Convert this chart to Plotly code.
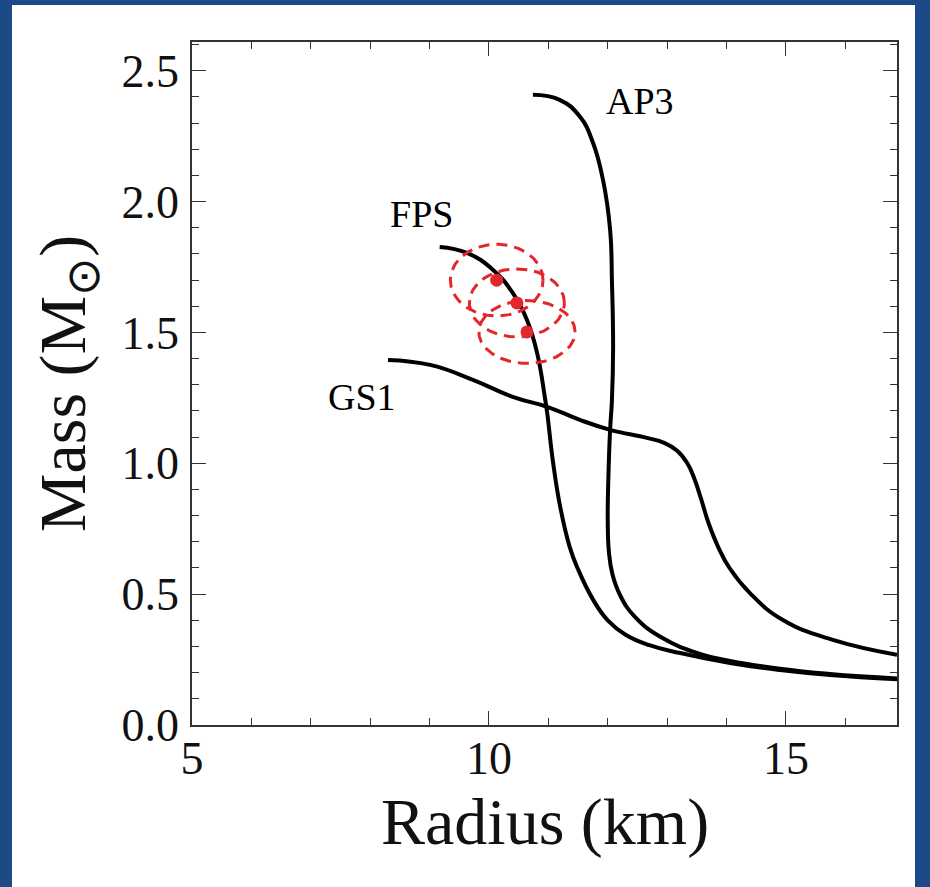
import numpy as np
import plotly.graph_objects as go

# ---- data ----
ap3_r = [10.74, 11.19, 11.53, 11.75, 11.92, 12.04, 12.07, 12.09, 12.07, 12.04, 12.01, 12.00, 12.02, 12.08, 12.21, 12.45, 12.90, 13.55, 14.06, 14.90, 15.74, 16.87]
ap3_m = [2.408, 2.389, 2.325, 2.226, 2.083, 1.892, 1.70, 1.44, 1.24, 1.13, 0.94, 0.78, 0.66, 0.575, 0.495, 0.415, 0.335, 0.272, 0.245, 0.215, 0.195, 0.178]

fps_r = [9.17, 9.63, 10.07, 10.40, 10.64, 10.81, 10.94, 10.98, 11.08, 11.20, 11.36, 11.50, 11.75, 12.00, 12.30, 12.70, 13.22, 14.06, 14.90, 15.74, 16.87]
fps_m = [1.827, 1.804, 1.739, 1.651, 1.548, 1.422, 1.254, 1.193, 1.002, 0.833, 0.680, 0.595, 0.480, 0.400, 0.345, 0.305, 0.275, 0.237, 0.210, 0.191, 0.175]

gs1_r = [8.30, 9.01, 9.73, 10.40, 10.98, 11.53, 12.04, 12.66, 12.95, 13.17, 13.34, 13.46, 13.57, 13.70, 13.86, 14.05, 14.39, 14.95, 15.79, 16.87]
gs1_m = [1.395, 1.376, 1.319, 1.254, 1.216, 1.166, 1.128, 1.097, 1.078, 1.048, 1.000, 0.940, 0.865, 0.770, 0.680, 0.600, 0.505, 0.401, 0.325, 0.268]

# measurement centres and 1-sigma half-widths
obs_r = [10.13, 10.47, 10.64]
obs_m = [1.70, 1.613, 1.502]
obs_dr = [0.78, 0.80, 0.81]
obs_dm = [0.137, 0.130, 0.120]

eos_names = ["AP3", "FPS", "GS1"]
label_r = [12.54, 8.87, 7.86]
label_m = [2.385, 1.953, 1.254]

x_range = [5, 16.87]
y_range = [0, 2.61]
x_ticks = [5, 10, 15]
y_ticks = [0.0, 0.5, 1.0, 1.5, 2.0, 2.5]

serif = "Liberation Serif, Times New Roman, serif"

fig = go.Figure()

for r, m in [(ap3_r, ap3_m), (fps_r, fps_m), (gs1_r, gs1_m)]:
    fig.add_trace(go.Scatter(x=r, y=m, mode="lines",
                             line=dict(color="black", width=4, shape="spline", smoothing=1.3),
                             showlegend=False, hoverinfo="skip"))

t = np.linspace(0, 2 * np.pi, 200)
for cr, cm, dr, dm in zip(obs_r, obs_m, obs_dr, obs_dm):
    fig.add_trace(go.Scatter(x=cr + dr * np.cos(t), y=cm + dm * np.sin(t), mode="lines",
                             line=dict(color="#e3262b", width=3, dash="11px,7px"),
                             showlegend=False, hoverinfo="skip"))

fig.add_trace(go.Scatter(x=obs_r, y=obs_m, mode="markers",
                         marker=dict(color="#e3262b", size=13),
                         showlegend=False, hoverinfo="skip"))

for name, lr, lm in zip(eos_names, label_r, label_m):
    fig.add_annotation(x=lr, y=lm, text=name, showarrow=False,
                       font=dict(family=serif, size=38, color="black"))

# white panel over blue backdrop
L, R, T, B = 192, 897, 42, 725
W, H = 930, 887
def px(xp):
    return (xp - L) / (R - L)
def py(yp):
    return (B - yp) / (B - T)

fig.add_shape(type="rect", xref="paper", yref="paper",
              x0=px(12), x1=px(915), y0=py(H + 5), y1=py(5),
              fillcolor="white", line=dict(width=0), layer="below")

# x-axis title placed to match the reference position
fig.add_annotation(x=0.5, y=py(822), xref="paper", yref="paper", yanchor="middle",
                   text="Radius (km)", showarrow=False,
                   font=dict(family=serif, size=66, color="#111"))

axis_common = dict(
    showgrid=False, zeroline=False, showline=True, linecolor="#333", linewidth=1.5,
    mirror="ticks", ticks="inside", ticklen=14, tickwidth=1.3, tickcolor="#333",
    tickfont=dict(family=serif, size=46, color="#111"),
)

fig.update_xaxes(range=x_range, tickvals=x_ticks, ticktext=[str(v) for v in x_ticks],
                 minor=dict(dtick=1, ticks="inside", ticklen=7, tickcolor="#333", tickwidth=1),
                 ticklabelstandoff=-8,
                 **axis_common)
fig.update_yaxes(range=y_range, tickvals=y_ticks, ticktext=[f"{v:.1f}" for v in y_ticks],
                 minor=dict(dtick=0.1, ticks="inside", ticklen=7, tickcolor="#333", tickwidth=1),
                 title=dict(text="Mass (M<sub>⊙</sub>)", font=dict(family=serif, size=66, color="#111"), standoff=14),
                 ticklabelstandoff=2,
                 **axis_common)

fig.update_layout(width=W, height=H, autosize=False,
                  margin=dict(l=L, r=W - R, t=T, b=H - B, pad=0),
                  paper_bgcolor="#1c4a86", plot_bgcolor="white")

fig.write_html("out.html")
